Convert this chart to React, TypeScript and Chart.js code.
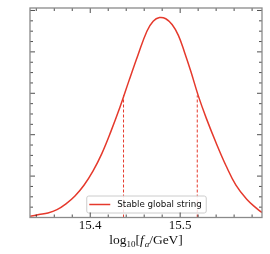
import React, { useEffect, useRef } from "react";
import { Chart, registerables } from "chart.js";

Chart.register(...registerables);

// Posterior of log10(fa/GeV)
const faValues = [
  15.333, 15.343, 15.353, 15.363, 15.373, 15.383, 15.393, 15.403, 15.413, 15.423,
  15.433, 15.443, 15.453, 15.463, 15.470, 15.477, 15.484, 15.491, 15.498, 15.505,
  15.512, 15.520, 15.529, 15.540, 15.551, 15.562, 15.574, 15.585, 15.591,
];
const density = [
  0.03, 0.07, 0.11, 0.19, 0.33, 0.52, 0.78, 1.12, 1.55, 2.08,
  2.66, 3.30, 3.92, 4.50, 4.74, 4.83, 4.80, 4.66, 4.40, 3.98,
  3.52, 2.95, 2.40, 1.80, 1.25, 0.78, 0.44, 0.22, 0.12,
];
// 1-sigma boundaries (dashed lines)
const sigmaBounds = [15.437, 15.519];
const sigmaHeights = [2.95, 2.95];

const xTickLabels = [15.4, 15.5];
const xMin = 15.333;
const xMax = 15.591;
const yMax = 5.06;
const seriesLabel = "Stable global string";

const RED = "#e5392c";

function frac(v: number) {
  return Math.round(v * 1000) / 1000;
}

const framePlugin = {
  id: "frameTicks",
  afterDraw(chart: any) {
    const { ctx, chartArea } = chart;
    const { left, right, top, bottom } = chartArea;
    const xs = chart.scales.x;
    const ys = chart.scales.y;
    ctx.save();
    ctx.strokeStyle = "#222";
    ctx.lineWidth = 0.8;
    for (let v = 15.34; v < xMax; v += 0.02) {
      const vv = frac(v);
      const px = xs.getPixelForValue(vv);
      const major = xTickLabels.some((t) => Math.abs(t - vv) < 1e-6);
      const len = major ? 5 : 3;
      ctx.beginPath();
      ctx.moveTo(px, bottom);
      ctx.lineTo(px, bottom - len);
      ctx.moveTo(px, top);
      ctx.lineTo(px, top + len);
      ctx.stroke();
    }
    for (let i = 0; i * 0.25 <= yMax; i++) {
      const v = i * 0.25;
      const py = ys.getPixelForValue(v);
      const len = i % 4 === 0 ? 5 : 3;
      ctx.beginPath();
      ctx.moveTo(left, py);
      ctx.lineTo(left + len, py);
      ctx.moveTo(right, py);
      ctx.lineTo(right - len, py);
      ctx.stroke();
    }
    ctx.strokeStyle = "#8a8a8a";
    ctx.lineWidth = 1.3;
    ctx.strokeRect(left, top, right - left, bottom - top);

    // axis title: log10[fa/GeV]
    const big = "13.5px 'Liberation Serif', 'DejaVu Serif', serif";
    const bigIt = "italic 13.5px 'Liberation Serif', 'DejaVu Serif', serif";
    const small = "9px 'Liberation Serif', 'DejaVu Serif', serif";
    const smallIt = "italic 9px 'Liberation Serif', 'DejaVu Serif', serif";
    const parts: [string, string, number][] = [
      ["log", big, 0],
      ["10", small, 3],
      ["[", big, 0],
      ["f", bigIt, 0],
      ["a", smallIt, 3],
      ["/GeV]", big, 0],
    ];
    let total = 0;
    const widths = parts.map(([t, f]) => {
      ctx.font = f;
      const w = ctx.measureText(t).width + (t === "f" ? 1 : 0);
      total += w;
      return w;
    });
    let x = (left + right) / 2 - total / 2;
    const baseY = 244;
    ctx.fillStyle = "#111";
    ctx.textBaseline = "alphabetic";
    ctx.textAlign = "left";
    parts.forEach(([t, f, dy], i) => {
      ctx.font = f;
      ctx.fillText(t, x, baseY + dy);
      x += widths[i];
    });
    ctx.restore();
  },
};

const legendPlugin = {
  id: "innerLegend",
  afterDatasetsDraw(chart: any) {
    const { ctx, chartArea } = chart;
    const ds = chart.data.datasets[0];
    ctx.save();
    ctx.font = "8.7px 'DejaVu Sans', sans-serif";
    const tw = ctx.measureText(ds.label).width;
    const sample = 21;
    const gap = 7;
    const padL = 3;
    const padR = 4;
    const w = padL + sample + gap + tw + padR;
    const h = 17;
    const cx = (chartArea.left + chartArea.right) / 2;
    const bx = cx - w / 2;
    const by = chartArea.bottom - 5 - h;
    ctx.fillStyle = "rgba(255,255,255,0.85)";
    ctx.strokeStyle = "#cccccc";
    ctx.lineWidth = 1;
    ctx.beginPath();
    (ctx as any).roundRect(bx + 0.5, by + 0.5, w, h, 2);
    ctx.fill();
    ctx.stroke();
    ctx.strokeStyle = ds.borderColor;
    ctx.lineWidth = 1.5;
    ctx.beginPath();
    ctx.moveTo(bx + padL, by + h / 2 + 0.5);
    ctx.lineTo(bx + padL + sample, by + h / 2 + 0.5);
    ctx.stroke();
    ctx.fillStyle = "#111";
    ctx.textBaseline = "middle";
    ctx.textAlign = "left";
    ctx.fillText(ds.label, bx + padL + sample + gap, by + h / 2 + 1);
    ctx.restore();
  },
};

export default function App() {
  const ref = useRef<HTMLCanvasElement>(null);
  useEffect(() => {
    document.body.style.margin = "0";
    const canvas = ref.current;
    if (!canvas) return;
    const curve = faValues.map((x, i) => ({ x, y: density[i] }));
    const dashSets = sigmaBounds.map((x, i) => ({
      label: "sigma" + i,
      data: [
        { x, y: 0 },
        { x, y: sigmaHeights[i] },
      ],
      borderColor: RED,
      borderWidth: 1,
      borderDash: [3, 2],
      pointRadius: 0,
      fill: false,
    }));
    const chart = new Chart(canvas, {
      type: "line",
      data: {
        datasets: [
          {
            label: seriesLabel,
            data: curve,
            borderColor: RED,
            borderWidth: 1.5,
            pointRadius: 0,
            tension: 0.4,
            fill: false,
          },
          ...dashSets,
        ] as any,
      },
      options: {
        animation: false,
        responsive: false,
        maintainAspectRatio: false,
        layout: { padding: { top: 8, right: 8, left: 0, bottom: 0 } },
        plugins: { legend: { display: false }, tooltip: { enabled: false } },
        scales: {
          x: {
            type: "linear",
            min: xMin,
            max: xMax,
            grid: { display: false, drawTicks: false },
            border: { display: false },
            afterBuildTicks: (axis: any) => {
              axis.ticks = xTickLabels.map((v) => ({ value: v }));
            },
            afterFit: (axis: any) => {
              axis.height = 36.5;
            },
            ticks: {
              padding: 0,
              color: "#111",
              font: { family: "'Liberation Serif', 'DejaVu Serif', serif", size: 13 },
              callback: (v: any) => Number(v).toFixed(1),
              maxRotation: 0,
            },
          },
          y: {
            type: "linear",
            min: 0,
            max: yMax,
            grid: { display: false, drawTicks: false },
            border: { display: false },
            ticks: { display: false },
            afterFit: (axis: any) => {
              axis.width = 30;
            },
          },
        },
      } as any,
      plugins: [legendPlugin, framePlugin],
    });
    return () => chart.destroy();
  }, []);
  return (
    <div style={{ width: 270, height: 254 }}>
      <canvas ref={ref} width={270} height={254} style={{ display: "block" }} />
    </div>
  );
}
